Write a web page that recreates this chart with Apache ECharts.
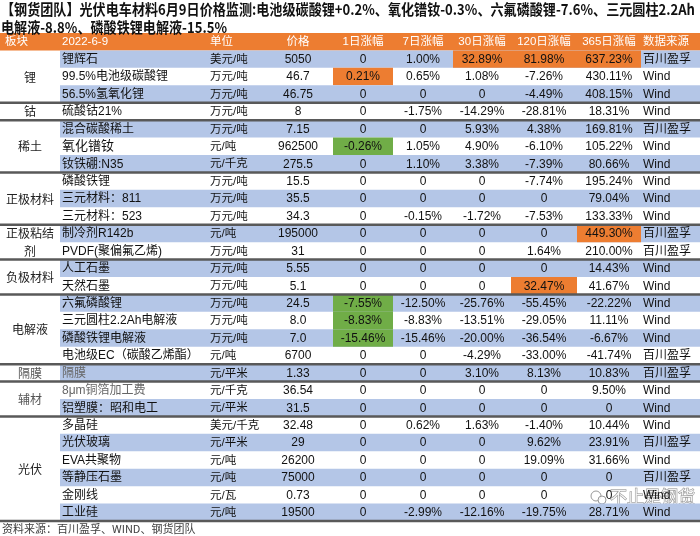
<!DOCTYPE html>
<html><head><meta charset="utf-8">
<script src="https://cdn.jsdelivr.net/npm/echarts@6/dist/echarts.min.js"></script>
<style>html,body{margin:0;padding:0;background:#fff}#c{width:700px;height:536px}</style>
</head><body><div id="c"></div>
<script>
// ---------------- data ----------------
const titleLines = [
  '【钢货团队】光伏电车材料6月9日价格监测:电池级碳酸锂+0.2%、氧化镨钕-0.3%、六氟磷酸锂-7.6%、三元圆柱2.2Ah',
  '电解液-8.8%、磷酸铁锂电解液-15.5%'
];
const headers = ['板块', '2022-6-9', '单位', '价格', '1日涨幅', '7日涨幅', '30日涨幅', '120日涨幅', '365日涨幅', '数据来源'];
const groupNames = ['锂', '钴', '稀土', '正极材料', '正极粘结\n剂', '负极材料', '电解液', '隔膜', '辅材', '光伏'];
const groupSizes = [3, 1, 3, 3, 2, 2, 4, 1, 2, 6];
const itemNames = ['锂辉石', '99.5%电池级碳酸锂', '56.5%氢氧化锂', '硫酸钴21%', '混合碳酸稀土', '氧化镨钕', '钕铁硼:N35',
  '磷酸铁锂', '三元材料：811', '三元材料：523', '制冷剂R142b', 'PVDF(聚偏氟乙烯)', '人工石墨', '天然石墨',
  '六氟磷酸锂', '三元圆柱2.2Ah电解液', '磷酸铁锂电解液', '电池级EC（碳酸乙烯酯）', '隔膜', '8μm铜箔加工费', '铝塑膜：昭和电工',
  '多晶硅', '光伏玻璃', 'EVA共聚物', '等静压石墨', '金刚线', '工业硅'];
const units = ['美元/吨', '万元/吨', '万元/吨', '万元/吨', '万元/吨', '元/吨', '元/千克',
  '万元/吨', '万元/吨', '万元/吨', '元/吨', '万元/吨', '万元/吨', '万元/吨',
  '万元/吨', '万元/吨', '万元/吨', '元/吨', '元/平米', '元/千克', '元/平米',
  '美元/千克', '元/平米', '元/吨', '元/吨', '元/瓦', '元/吨'];
const prices = ['5050', '46.7', '46.75', '8', '7.15', '962500', '275.5',
  '15.5', '35.5', '34.3', '195000', '31', '5.55', '5.1',
  '24.5', '8.0', '7.0', '6700', '1.33', '36.54', '31.5',
  '32.48', '29', '26200', '75000', '0.73', '19500'];
const chg1d = [0, 0.21, 0, 0, 0, -0.26, 0, 0, 0, 0, 0, 0, 0, 0, -7.55, -8.83, -15.46, 0, 0, 0, 0, 0, 0, 0, 0, 0, 0];
const chg7d = [1.00, 0.65, 0, -1.75, 0, 1.05, 1.10, 0, 0, -0.15, 0, 0, 0, 0, -12.50, -8.83, -15.46, 0, 0, 0, 0, 0.62, 0, 0, 0, 0, -2.99];
const chg30d = [32.89, 1.08, 0, -14.29, 5.93, 4.90, 3.38, 0, 0, -1.72, 0, 0, 0, 0, -25.76, -13.51, -20.00, -4.29, 3.10, 0, 0, 1.63, 0, 0, 0, 0, -12.16];
const chg120d = [81.98, -7.26, -4.49, -28.81, 4.38, -6.10, -7.39, -7.74, 0, -7.53, 0, 1.64, 0, 32.47, -55.45, -29.05, -36.54, -33.00, 8.13, 0, 0, -1.40, 9.62, 19.09, 0, 0, -19.75];
const chg365d = [637.23, 430.11, 408.15, 18.31, 169.81, 105.22, 80.66, 195.24, 79.04, 133.33, 449.30, 210.00, 14.43, 41.67, -22.22, 11.11, -6.67, -41.74, 10.83, 9.50, 0, 10.44, 23.91, 31.66, 0, 0, 28.71];
const sources = ['百川盈孚', 'Wind', 'Wind', 'Wind', '百川盈孚', 'Wind', 'Wind', 'Wind', 'Wind', 'Wind', '百川盈孚', '百川盈孚', 'Wind', 'Wind',
  'Wind', 'Wind', 'Wind', '百川盈孚', '百川盈孚', 'Wind', 'Wind', 'Wind', '百川盈孚', 'Wind', '百川盈孚', 'Wind', 'Wind'];
const sourceNote = '资料来源：百川盈孚、WIND、钢货团队';
const watermark = '不止是钢货';

// ---------------- layout / style ----------------
const ORANGE = '#ED7D31', BLUE = '#B4C6E7', GREEN = '#70AD47', LINE = '#595959';
const COLS = {
  group: [0, 60], name: [60, 205], unit: [205, 265], price: [265, 331],
  c1: [333, 393], c7: [393, 453], c30: [453, 511], c120: [511, 577], c365: [577, 641], src: [641, 700]
};
const PAD = { name: 2, unit: 5, src: 2, group: 5 };
const headerCols = ['group', 'name', 'unit', 'price', 'c1', 'c7', 'c30', 'c120', 'c365', 'src'];
const headerAlign = ['left', 'left', 'left', 'center', 'center', 'center', 'center', 'center', 'center', 'left'];
const highlights = {
  0: { c30: ORANGE, c120: ORANGE, c365: ORANGE },
  1: { c1: ORANGE },
  5: { c1: GREEN },
  10: { c365: ORANGE },
  13: { c120: ORANGE },
  14: { c1: GREEN }, 15: { c1: GREEN }, 16: { c1: GREEN }
};
const greyNames = { 18: true, 19: true };
const FONT = '"Liberation Sans", "Noto Sans CJK SC", sans-serif';
const CJK = '"Noto Sans CJK SC", sans-serif';

const fmtPct = v => v === 0 ? '0' : v.toFixed(2) + '%';
const categories = ['header'].concat(itemNames);

function renderRow(params, api) {
  const r = api.value(0);
  const h = api.size([0, 1])[1];
  const cy = api.coord([0, r])[1];
  const top = cy - h / 2;
  const X = v => api.coord([v, r])[0];
  const children = [];
  const rect = (x0, x1, fill) => children.push({
    type: 'rect', shape: { x: X(x0), y: top, width: X(x1) - X(x0), height: h }, style: { fill }
  });
  const text = (str, col, align, fill, size) => {
    const [a, b] = COLS[col];
    const x = align === 'left' ? X(a) + (PAD[col] || 2) : (X(a) + X(b)) / 2;
    children.push({
      type: 'text', style: {
        text: str, x, y: cy + 0.5, align, verticalAlign: 'middle', fill,
        fontFamily: FONT, fontSize: size
      }
    });
  };
  if (r === 0) {
    rect(0, 700, ORANGE);
    headers.forEach((hd, k) => text(hd, headerCols[k], headerAlign[k], '#fff', 11.5));
  } else {
    const i = r - 1;
    if (i % 2 === 0) rect(60, 700, BLUE);
    const hl = highlights[i] || {};
    Object.keys(hl).forEach(col => rect(COLS[col][0], COLS[col][1], hl[col]));
    const fill = '#111';
    text(itemNames[i], 'name', 'left', greyNames[i] ? '#666' : fill, i === 5 ? 13 : 12);
    text(units[i], 'unit', 'left', fill, 11.5);
    text(prices[i], 'price', 'center', fill, 12);
    text(fmtPct(chg1d[i]), 'c1', 'center', fill, 12);
    text(fmtPct(chg7d[i]), 'c7', 'center', fill, 12);
    text(fmtPct(chg30d[i]), 'c30', 'center', fill, 12);
    text(fmtPct(chg120d[i]), 'c120', 'center', fill, 12);
    text(fmtPct(chg365d[i]), 'c365', 'center', fill, 12);
    text(sources[i], 'src', 'left', fill, 12);
  }
  return { type: 'group', children };
}

const groupData = [];
let start = 1;
groupNames.forEach((g, k) => {
  groupData.push([start, start + groupSizes[k] - 1, k]);
  start += groupSizes[k];
});

function renderGroup(params, api) {
  const s = api.value(0), e = api.value(1), k = api.value(2);
  const h = api.size([0, 1])[1];
  const y0 = api.coord([0, s])[1] - h / 2;
  const y1 = api.coord([0, e])[1] + h / 2;
  const xa = api.coord([COLS.group[0], s])[0], xb = api.coord([COLS.group[1], s])[0];
  const xEnd = api.coord([700, s])[0];
  const grey = groupNames[k] === '隔膜' || groupNames[k] === '辅材';
  return {
    type: 'group', children: [
      {
        type: 'text', style: {
          text: groupNames[k], x: (xa + xb) / 2, y: (y0 + y1) / 2 + 0.5, align: 'center', verticalAlign: 'middle',
          fill: grey ? '#555' : '#222', fontFamily: CJK, fontSize: 12, lineHeight: h
        }
      },
      { type: 'line', shape: { x1: xa, y1: y1, x2: xEnd, y2: y1 }, style: { stroke: LINE, lineWidth: 2.5 } }
    ]
  };
}

const cv = document.createElement('canvas').getContext('2d');
cv.font = 'bold 15px "Noto Sans CJK SC"';
const titleScale = 694 / cv.measureText(titleLines[0]).width;

const chart = echarts.init(document.getElementById('c'), null, { renderer: 'canvas' });
chart.setOption({
  animation: false,
  backgroundColor: '#fff',
  grid: { left: 0, right: 0, top: 33, bottom: 15 },
  xAxis: { type: 'value', min: 0, max: 700, show: false },
  yAxis: { type: 'category', data: categories, inverse: true, show: false },
  series: [
    { type: 'custom', renderItem: renderRow, data: categories.map((c, i) => [i]), z: 2, clip: false },
    { type: 'custom', renderItem: renderGroup, data: groupData, z: 3, clip: false }
  ],
  graphic: [
    {
      type: 'text', x: 1, y: 2, scaleX: titleScale, z: 10,
      style: { text: titleLines[0], fontFamily: CJK, fontWeight: 'bold', fontSize: 15, fill: '#111', verticalAlign: 'top' }
    },
    {
      type: 'text', x: 1, y: 20, scaleX: titleScale, z: 10,
      style: { text: titleLines[1], fontFamily: CJK, fontWeight: 'bold', fontSize: 15, fill: '#111', verticalAlign: 'top' }
    },
    {
      type: 'text', x: 2, y: 529,
      style: { text: sourceNote, fontFamily: CJK, fontSize: 11, fill: '#404040', verticalAlign: 'middle' }
    },
    {
      type: 'group', x: 596, y: 497, z: 20, children: [
        { type: 'circle', shape: { cx: 0, cy: -1, r: 5 }, style: { fill: 'rgba(255,255,255,0.8)', stroke: '#999', lineWidth: 1 } },
        { type: 'circle', shape: { cx: 6, cy: 3, r: 4 }, style: { fill: 'rgba(255,255,255,0.8)', stroke: '#999', lineWidth: 1 } },
        {
          type: 'text', x: 14, y: 0,
          style: { text: watermark, fontFamily: CJK, fontSize: 17, fill: 'rgba(255,255,255,0.85)', stroke: '#888', lineWidth: 1, verticalAlign: 'middle' }
        }
      ]
    }
  ]
});
</script></body></html>
